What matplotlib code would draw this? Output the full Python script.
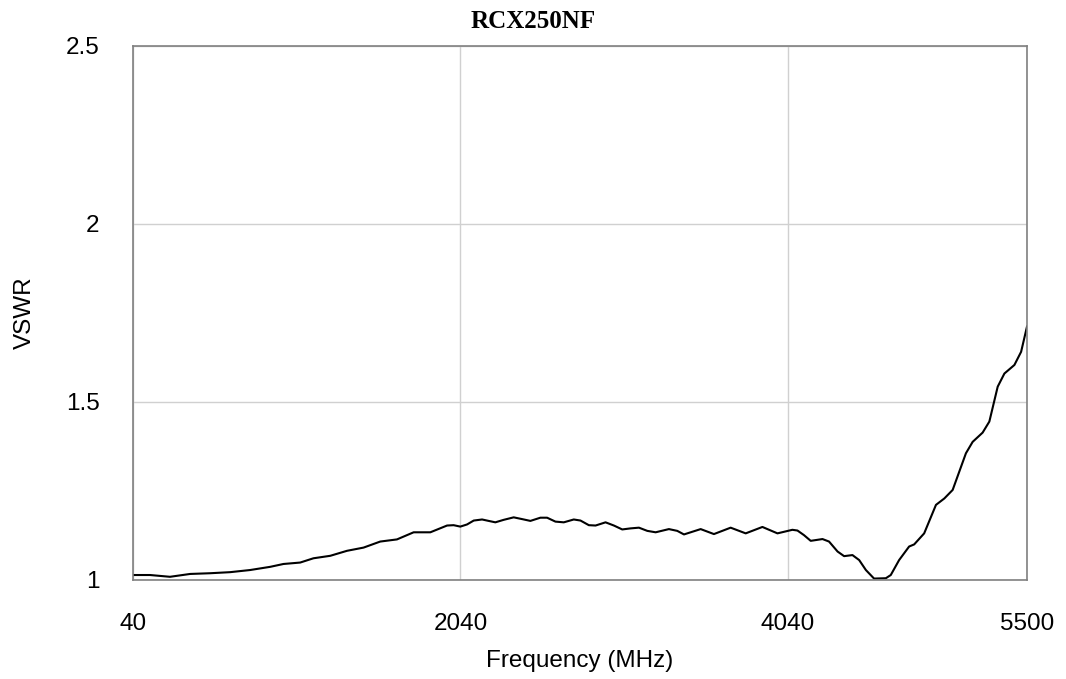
import matplotlib
matplotlib.use("Agg")
import matplotlib.pyplot as plt

freq_mhz = [40, 144, 266, 389, 511, 633, 755, 878, 959, 1061, 1142, 1245, 1347, 1448,
            1550, 1652, 1754, 1856, 1958, 1998, 2039, 2080, 2121, 2172, 2212, 2253,
            2304, 2365, 2417, 2467, 2528, 2569, 2620, 2671, 2732, 2773, 2824, 2865,
            2926, 2977, 3028, 3079, 3130, 3181, 3232, 3313, 3364, 3405, 3507, 3588,
            3690, 3782, 3884, 3976, 4067, 4098, 4138, 4179, 4251, 4291, 4343, 4383,
            4434, 4475, 4516, 4566, 4638, 4668, 4719, 4780, 4811, 4872, 4944, 4995,
            5046, 5127, 5168, 5229, 5270, 5321, 5362, 5423, 5464, 5500]
vswr = [1.014, 1.014, 1.009, 1.017, 1.019, 1.022, 1.028, 1.037, 1.045, 1.049, 1.061,
        1.068, 1.082, 1.091, 1.108, 1.114, 1.134, 1.134, 1.153, 1.154, 1.150, 1.156,
        1.167, 1.170, 1.166, 1.162, 1.169, 1.176, 1.171, 1.166, 1.175, 1.175, 1.164,
        1.162, 1.170, 1.167, 1.154, 1.153, 1.162, 1.153, 1.142, 1.145, 1.147, 1.138,
        1.134, 1.143, 1.138, 1.128, 1.143, 1.129, 1.147, 1.131, 1.149, 1.131, 1.141,
        1.139, 1.126, 1.110, 1.115, 1.108, 1.080, 1.067, 1.070, 1.056, 1.028, 1.004,
        1.005, 1.014, 1.056, 1.094, 1.100, 1.131, 1.211, 1.229, 1.253, 1.356, 1.388,
        1.414, 1.445, 1.543, 1.580, 1.604, 1.641, 1.712]
x_ticks = [40, 2040, 4040, 5500]
y_ticks = [1, 1.5, 2, 2.5]
y_tick_labels = ["1", "1.5", "2", "2.5"]

W, H = 1066, 679
fig = plt.figure(figsize=(W / 100, H / 100), dpi=100)
ax = fig.add_axes([133 / W, 1 - 580 / H, (1027 - 133) / W, (580 - 46) / H])
ax.plot(freq_mhz, vswr, color="black", linewidth=1.5)
ax.set_xlim(40, 5500)
ax.set_ylim(1, 2.5)
ax.set_xticks(x_ticks)
ax.set_xticklabels([str(t) for t in x_ticks], fontfamily="Liberation Sans", fontsize=17.5)
ax.set_yticks(y_ticks)
ax.set_yticklabels(y_tick_labels, fontfamily="Liberation Sans", fontsize=17.5)
ax.tick_params(axis="x", length=0, pad=24)
ax.tick_params(axis="y", length=0, pad=24)
ax.grid(True, color="#d0d0d0", linewidth=1)
ax.set_axisbelow(True)
for s in ax.spines.values():
    s.set_color("#808080")
    s.set_linewidth(1.2)
fig.text(580 / W, 1 - 661 / H, "Frequency (MHz)", ha="center", va="center",
         fontfamily="Liberation Sans", fontsize=17.5)
fig.text(25 / W, 1 - 313 / H, "VSWR", ha="center", va="center", rotation=90,
         fontfamily="Liberation Sans", fontsize=17.5)
fig.text(533 / W, 1 - 22 / H, "RCX250NF", ha="center", va="center",
         fontfamily="Liberation Serif", fontweight="bold", fontsize=18)
fig.savefig("out.png", dpi=100, facecolor="white")
